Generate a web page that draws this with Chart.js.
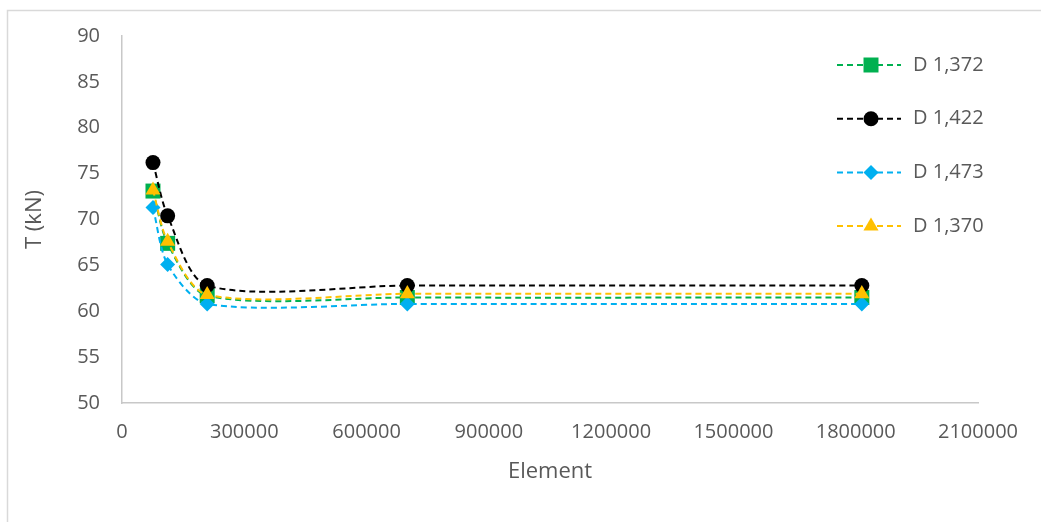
<!DOCTYPE html>
<html>
<head>
<meta charset="utf-8">
<script src="https://cdn.jsdelivr.net/npm/chart.js@4"></script>
<style>
  body { margin: 0; background: #fff; }
  #wrap { width: 1041px; height: 522px; position: relative; }
</style>
</head>
<body>
<div id="wrap"><canvas id="myChart" width="1041" height="522"></canvas></div>
<script>
const elements = [76000, 112000, 209000, 700000, 1815000]
const labels = ['D 1,372', 'D 1,422', 'D 1,473', 'D 1,370']
const d1372 = [73.1, 67.4, 61.7, 61.5, 61.5]
const d1422 = [76.2, 70.4, 62.8, 62.8, 62.8]
const d1473 = [71.3, 65.1, 60.8, 60.8, 60.8]
const d1370 = [73.2, 67.6, 61.8, 61.9, 61.9]
const xTicks = [0, 300000, 600000, 900000, 1200000, 1500000, 1800000, 2100000]
const yTicks = [50, 55, 60, 65, 70, 75, 80, 85, 90]

const textColor = '#595959'
const fontFamily = "'Open Sans', 'Noto Sans', sans-serif"

const makeSet = (label, values, color, style, radius, order) => ({
  label: label,
  data: values.map((v, i) => ({ x: elements[i], y: v })),
  showLine: true,
  borderColor: color,
  backgroundColor: color,
  borderWidth: 2,
  borderDash: [6, 4],
  tension: 0.28,
  pointStyle: style,
  pointRadius: radius,
  pointHoverRadius: radius,
  pointBorderWidth: 0,
  order: order
})

const datasets = [
  makeSet(labels[0], d1372, '#00b050', 'rect', 10.6, 4),
  makeSet(labels[1], d1422, '#000000', 'circle', 7.5, 3),
  makeSet(labels[2], d1473, '#00b0f0', 'rectRot', 7.5, 2),
  makeSet(labels[3], d1370, '#ffc000', 'triangle', 8.7, 1)
]

// outer frame + legend with dashed line and marker
const extras = {
  id: 'extras',
  beforeDraw(chart) {
    const ctx = chart.ctx
    ctx.save()
    ctx.fillStyle = '#fff'
    ctx.fillRect(0, 0, chart.width, chart.height)
    ctx.strokeStyle = '#d9d9d9'
    ctx.lineWidth = 1.5
    ctx.strokeRect(7.5, 10.5, 1200, 800)
    ctx.restore()
  },
  afterDraw(chart) {
    const ctx = chart.ctx
    ctx.save()
    chart.data.datasets.forEach((ds, i) => {
      const y = 65 + i * 53.7
      ctx.strokeStyle = ds.borderColor
      ctx.lineWidth = 2
      ctx.setLineDash([6, 4])
      ctx.beginPath()
      ctx.moveTo(837, y)
      ctx.lineTo(901, y)
      ctx.stroke()
      ctx.setLineDash([])
      ctx.fillStyle = ds.backgroundColor
      Chart.helpers.drawPoint(ctx, {
        pointStyle: ds.pointStyle,
        radius: ds.pointRadius,
        rotation: 0,
        borderWidth: 0
      }, 871, y)
      ctx.fillStyle = textColor
      ctx.font = '20px ' + fontFamily
      ctx.textBaseline = 'middle'
      ctx.textAlign = 'left'
      ctx.fillText(ds.label, 913, y)
    })
    ctx.restore()
  }
}

new Chart(document.getElementById('myChart'), {
  type: 'scatter',
  data: { datasets },
  plugins: [extras],
  options: {
    responsive: false,
    animation: false,
    events: [],
    layout: { padding: { left: 0, top: 36, right: 63, bottom: 0 } },
    plugins: { legend: { display: false }, tooltip: { enabled: false } },
    scales: {
      x: {
        type: 'linear',
        min: 0,
        max: 2100000,
        afterFit: (s) => { s.height = 119 },
        afterBuildTicks: (s) => { s.ticks = xTicks.map(v => ({ value: v })) },
        grid: { display: false, drawTicks: false },
        border: { color: '#c8c8c8', width: 1.5 },
        ticks: {
          color: textColor,
          padding: 17,
          maxRotation: 0,
          autoSkip: false,
          font: { family: fontFamily, size: 20 },
          callback: (v) => String(v)
        },
        title: {
          display: true,
          text: 'Element',
          color: textColor,
          font: { family: fontFamily, size: 22 },
          padding: { top: 0, bottom: 37 }
        }
      },
      y: {
        min: 50,
        max: 90,
        afterFit: (s) => { s.width = 122 },
        afterBuildTicks: (s) => { s.ticks = yTicks.map(v => ({ value: v })) },
        grid: { display: false, drawTicks: false },
        border: { color: '#c8c8c8', width: 1.5 },
        ticks: {
          color: textColor,
          padding: 22,
          font: { family: fontFamily, size: 20 }
        },
        title: {
          display: true,
          text: 'T (kN)',
          color: textColor,
          font: { family: fontFamily, size: 22 },
          padding: { top: 22, bottom: 0 }
        }
      }
    }
  }
})
</script>
</body>
</html>
